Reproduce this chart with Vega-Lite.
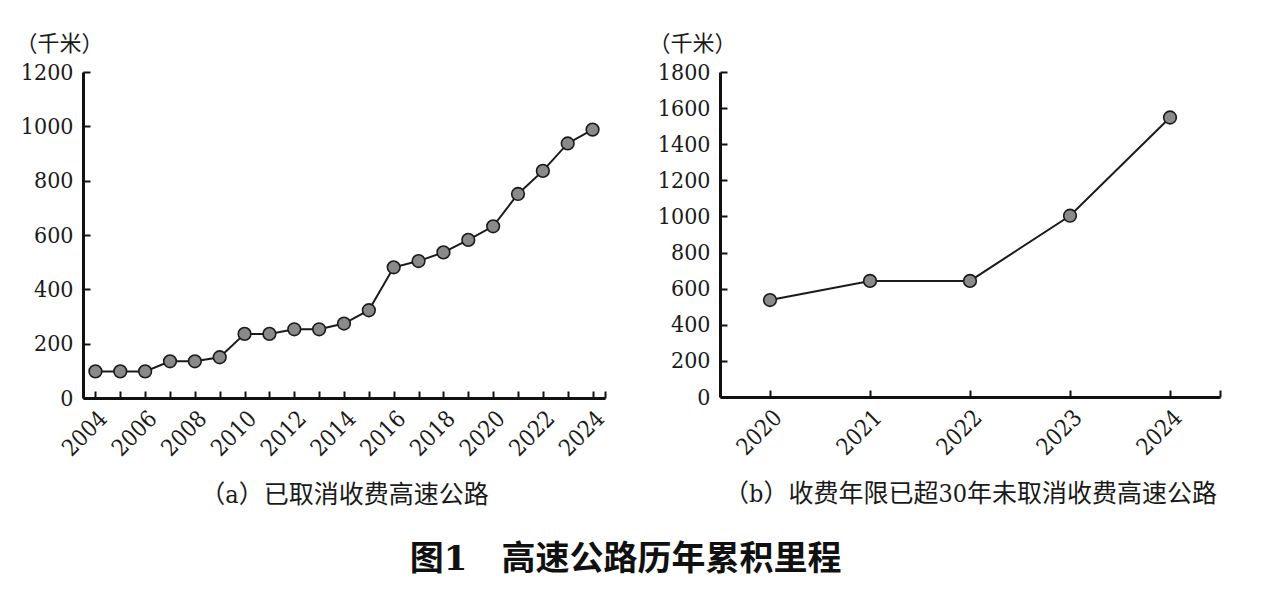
{
  "$schema": "https://vega.github.io/schema/vega-lite/v6.json",
  "background": "white",
  "padding": {"left": 15, "top": 32, "right": 5, "bottom": 5},
  "datasets": {
    "a": [
      {"year": 2004, "km": 98}, {"year": 2005, "km": 98}, {"year": 2006, "km": 98},
      {"year": 2007, "km": 135}, {"year": 2008, "km": 135}, {"year": 2009, "km": 150},
      {"year": 2010, "km": 236}, {"year": 2011, "km": 236}, {"year": 2012, "km": 253},
      {"year": 2013, "km": 253}, {"year": 2014, "km": 274}, {"year": 2015, "km": 323},
      {"year": 2016, "km": 481}, {"year": 2017, "km": 504}, {"year": 2018, "km": 536},
      {"year": 2019, "km": 582}, {"year": 2020, "km": 632}, {"year": 2021, "km": 751},
      {"year": 2022, "km": 836}, {"year": 2023, "km": 937}, {"year": 2024, "km": 988}
    ],
    "b": [
      {"year": 2020, "km": 537}, {"year": 2021, "km": 643}, {"year": 2022, "km": 643},
      {"year": 2023, "km": 1004}, {"year": 2024, "km": 1548}
    ]
  },
  "spacing": 26,
  "hconcat": [
    {
      "width": 522,
      "height": 326,
      "data": {"name": "a"},
      "encoding": {
        "x": {
          "field": "year", "type": "quantitative",
          "scale": {"domain": [2003.5, 2024.5], "nice": false, "zero": false},
          "axis": {
            "values": [2004, 2005, 2006, 2007, 2008, 2009, 2010, 2011, 2012, 2013, 2014, 2015, 2016, 2017, 2018, 2019, 2020, 2021, 2022, 2023, 2024, 2024.5],
            "labelExpr": "datum.value % 2 === 0 ? '' + datum.value : ''",
            "title": "（a）已取消收费高速公路",
            "titlePadding": 22
          }
        },
        "y": {
          "field": "km", "type": "quantitative",
          "scale": {"domain": [0, 1200], "nice": false},
          "axis": {
            "values": [0, 200, 400, 600, 800, 1000, 1200],
            "format": "d",
            "title": "（千米）",
            "titleAngle": 0, "titleX": -68, "titleY": -29,
            "titleAlign": "left", "titleBaseline": "middle"
          }
        }
      },
      "layer": [
        {"mark": {"type": "line", "color": "#1a1a1a", "strokeWidth": 2}},
        {"mark": {"type": "circle", "fill": "#8a8a8a", "stroke": "#1a1a1a", "strokeWidth": 1.6, "size": 160, "opacity": 1}}
      ]
    },
    {
      "width": 500,
      "height": 325,
      "data": {"name": "b"},
      "encoding": {
        "x": {
          "field": "year", "type": "quantitative",
          "scale": {"domain": [2019.5, 2024.5], "nice": false, "zero": false},
          "axis": {
            "values": [2020, 2021, 2022, 2023, 2024, 2024.5],
            "labelExpr": "datum.value % 1 === 0 ? '' + datum.value : ''",
            "title": "（b）收费年限已超30年未取消收费高速公路",
            "titlePadding": 22
          }
        },
        "y": {
          "field": "km", "type": "quantitative",
          "scale": {"domain": [0, 1800], "nice": false},
          "axis": {
            "values": [0, 200, 400, 600, 800, 1000, 1200, 1400, 1600, 1800],
            "format": "d",
            "title": "（千米）",
            "titleAngle": 0, "titleX": -72, "titleY": -29,
            "titleAlign": "left", "titleBaseline": "middle"
          }
        }
      },
      "layer": [
        {"mark": {"type": "line", "color": "#1a1a1a", "strokeWidth": 2}},
        {"mark": {"type": "circle", "fill": "#8a8a8a", "stroke": "#1a1a1a", "strokeWidth": 1.6, "size": 160, "opacity": 1}}
      ]
    }
  ],
  "title": {
    "text": "图1　高速公路历年累积里程",
    "orient": "bottom",
    "anchor": "middle",
    "font": "DejaVu Serif, Noto Sans CJK SC",
    "fontSize": 34,
    "fontWeight": "bold",
    "color": "#111111",
    "offset": 36
  },
  "config": {
    "view": {"stroke": null},
    "axis": {
      "grid": false,
      "domainColor": "#111111",
      "domainWidth": 3,
      "tickColor": "#111111",
      "tickWidth": 2,
      "tickSize": -7,
      "labelFont": "DejaVu Serif Condensed, DejaVu Serif",
      "labelFontSize": 23,
      "labelColor": "#1a1a1a",
      "labelOverlap": false,
      "titleFont": "DejaVu Serif Condensed, DejaVu Serif, Noto Sans CJK SC",
      "titleFontWeight": "normal",
      "titleColor": "#1a1a1a"
    },
    "axisY": {"titleFontSize": 22, "labelPadding": 17},
    "axisX": {
      "labelAngle": -45,
      "labelAlign": "right",
      "labelBaseline": "top",
      "labelPadding": 16,
      "titleFontSize": 25
    }
  }
}
